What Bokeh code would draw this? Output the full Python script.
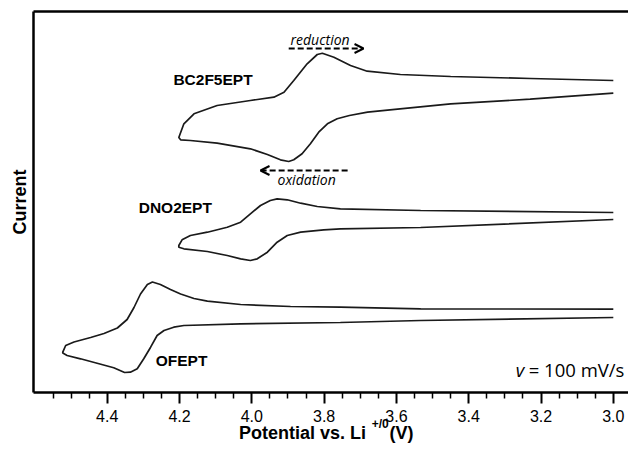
from bokeh.plotting import figure
from bokeh.models import Range1d, FixedTicker, PrintfTickFormatter, Label, Arrow, OpenHead, LinearAxis
from bokeh.embed import file_html
from bokeh.resources import INLINE

# ---- data (potential in V, current in arbitrary units, offset per compound) ----
bc_ox_v = [3.00, 3.23, 3.45, 3.59, 3.68, 3.73, 3.764, 3.791, 3.815, 3.838, 3.861, 3.884, 3.898, 3.921, 3.957, 4.004, 4.096, 4.170, 4.197]
bc_ox_i = [29.93, 29.33, 28.87, 28.37, 28.03, 27.7, 27.37, 26.87, 26.03, 24.87, 23.87, 23.27, 23.1, 23.27, 23.8, 24.37, 24.93, 25.2, 25.27]
bc_red_v = [4.202, 4.188, 4.160, 4.096, 4.004, 3.939, 3.911, 3.884, 3.847, 3.819, 3.805, 3.773, 3.727, 3.681, 3.589, 3.450, 3.229, 3.00]
bc_red_i = [25.5, 26.87, 27.87, 28.7, 29.2, 29.53, 30.03, 31.2, 32.87, 33.8, 33.93, 33.53, 32.7, 32.13, 31.8, 31.6, 31.4, 31.2]

dn_ox_v = [3.00, 3.533, 3.755, 3.801, 3.865, 3.902, 3.930, 3.957, 3.985, 4.004, 4.031, 4.068, 4.123, 4.188, 4.202]
dn_ox_i = [17.3, 16.5, 16.37, 16.27, 16.03, 15.7, 15.03, 14.03, 13.37, 13.2, 13.37, 13.7, 14.1, 14.37, 14.53]
dn_red_v = [4.202, 4.193, 4.170, 4.123, 4.068, 4.031, 4.004, 3.976, 3.949, 3.930, 3.902, 3.865, 3.819, 3.755, 3.533, 3.00]
dn_red_i = [14.7, 15.27, 15.7, 16.03, 16.53, 17.03, 17.87, 18.7, 19.2, 19.37, 19.27, 18.93, 18.6, 18.37, 18.2, 18.0]

of_ox_v = [3.00, 3.533, 3.755, 4.031, 4.188, 4.216, 4.243, 4.262, 4.280, 4.299, 4.317, 4.336, 4.352, 4.382, 4.428, 4.474, 4.511, 4.523]
of_ox_i = [7.5, 7.2, 7.0, 6.87, 6.7, 6.53, 6.2, 5.7, 4.53, 3.37, 2.37, 2.03, 2.0, 2.47, 2.93, 3.37, 3.7, 3.95]
of_red_v = [4.523, 4.515, 4.492, 4.446, 4.409, 4.372, 4.345, 4.326, 4.308, 4.289, 4.275, 4.253, 4.225, 4.197, 4.160, 4.123, 4.031, 3.893, 3.755, 3.533, 3.00]
of_red_i = [4.03, 4.7, 5.05, 5.5, 5.9, 6.45, 7.3, 8.5, 9.85, 10.8, 11.05, 10.8, 10.3, 9.85, 9.4, 9.13, 8.8, 8.6, 8.53, 8.37, 8.33]

major_ticks = [3.0, 3.2, 3.4, 3.6, 3.8, 4.0, 4.2, 4.4]
minor_ticks = [2.95, 3.05, 3.1, 3.15, 3.25, 3.3, 3.35, 3.45, 3.5, 3.55, 3.65, 3.7, 3.75,
               3.85, 3.9, 3.95, 4.05, 4.1, 4.15, 4.25, 4.3, 4.35, 4.45, 4.5, 4.55]

# x-axis title pieces (text and where each piece is centred on the potential axis)
title_main = {3.860: "Potential vs. Li", 3.586: "(V)"}
title_sup = {3.645: "+/0"}

p = figure(width=628, height=452, output_backend="svg", toolbar_location=None,
           x_range=Range1d(4.604, 2.958), y_range=Range1d(0, 38.1),
           min_border_left=33, min_border_right=0, min_border_top=11, min_border_bottom=60)
p.outline_line_color = None
p.grid.visible = False
p.background_fill_color = "white"
p.border_fill_color = "white"

xa = p.xaxis[0]
xa.ticker = FixedTicker(ticks=major_ticks, minor_ticks=minor_ticks)
xa.formatter = PrintfTickFormatter(format="%.1f")
xa.major_tick_in = 0
xa.major_tick_out = 11
xa.minor_tick_in = 0
xa.minor_tick_out = 6
xa.major_tick_line_width = 2
xa.minor_tick_line_width = 1.5
xa.axis_line_width = 2.5
xa.major_label_text_font = "Liberation Sans"
xa.major_label_text_font_size = "16px"
xa.major_label_text_color = "black"
xa.major_label_standoff = 6

ya = p.yaxis[0]
ya.ticker = FixedTicker(ticks=[])
ya.major_tick_in = 0
ya.major_tick_out = 0
ya.minor_tick_in = 0
ya.minor_tick_out = 0
ya.major_label_text_font_size = "0px"
ya.major_label_standoff = 0
ya.axis_line_width = 2.5
ya.axis_label = "Current"
ya.axis_label_text_font = "Liberation Sans"
ya.axis_label_text_font_style = "bold"
ya.axis_label_text_font_size = "18px"
ya.axis_label_text_color = "black"
ya.axis_label_standoff = 4


def bare_axis(**kw):
    ax = LinearAxis(major_tick_in=0, major_tick_out=0, minor_tick_in=0, minor_tick_out=0,
                    major_tick_line_color=None, minor_tick_line_color=None, **kw)
    return ax


top_ax = bare_axis(ticker=FixedTicker(ticks=[]), major_label_text_font_size="0px",
                   major_label_standoff=0, axis_line_width=2.5, axis_line_color="black")
p.add_layout(top_ax, "above")

title_ax = bare_axis(ticker=FixedTicker(ticks=list(title_main.keys())),
                     major_label_overrides=title_main, axis_line_color=None,
                     major_label_text_font="Liberation Sans", major_label_text_font_style="bold",
                     major_label_text_font_size="18px", major_label_text_color="black",
                     major_label_standoff=-2)
p.add_layout(title_ax, "below")

sup_ax = bare_axis(ticker=FixedTicker(ticks=list(title_sup.keys())),
                   major_label_overrides=title_sup, axis_line_color=None,
                   major_label_text_font="Liberation Sans", major_label_text_font_style="bold",
                   major_label_text_font_size="12px", major_label_text_color="black",
                   major_label_standoff=-29)
p.add_layout(sup_ax, "below")

line_kw = dict(line_color="#1a1a1a", line_width=1.7)
p.line(bc_ox_v + bc_red_v, bc_ox_i + bc_red_i, **line_kw)
p.line(dn_ox_v + dn_red_v, dn_ox_i + dn_red_i, **line_kw)
p.line(of_ox_v + of_red_v, of_ox_i + of_red_i, **line_kw)

name_kw = dict(text_font="Liberation Sans", text_font_style="bold", text_font_size="15.5px",
               text_color="black", text_baseline="middle", text_align="left")
p.add_layout(Label(x=4.217, y=31.35, text="BC2F5EPT", **name_kw))
p.add_layout(Label(x=4.313, y=18.55, text="DNO2EPT", **name_kw))
p.add_layout(Label(x=4.266, y=3.2, text="OFEPT", **name_kw))

it_kw = dict(text_font="Open Sans", text_font_style="italic", text_font_size="14px",
             text_color="black", text_baseline="middle", text_align="left")
p.add_layout(Label(x=3.893, y=35.3, text="reduction", **it_kw))
p.add_layout(Label(x=3.929, y=21.3, text="oxidation", **it_kw))

p.add_layout(Arrow(end=OpenHead(size=9, line_width=2, line_color="black"),
                   x_start=3.898, y_start=34.4, x_end=3.691, y_end=34.4,
                   line_dash="6 3", line_width=2, line_color="black"))
p.add_layout(Arrow(end=OpenHead(size=9, line_width=2, line_color="black"),
                   x_start=3.735, y_start=22.2, x_end=3.976, y_end=22.2,
                   line_dash="6 3", line_width=2, line_color="black"))

p.add_layout(Label(x=3.270, y=2.3, text="v", text_font="Open Sans", text_font_style="italic",
                   text_font_size="18.5px", text_color="black", text_baseline="middle", text_align="left"))
p.add_layout(Label(x=3.234, y=2.3, text="= 100 mV/s", text_font="Open Sans",
                   text_font_size="18.5px", text_color="black", text_baseline="middle", text_align="left"))

open("out.html", "w").write(file_html(p, INLINE))
